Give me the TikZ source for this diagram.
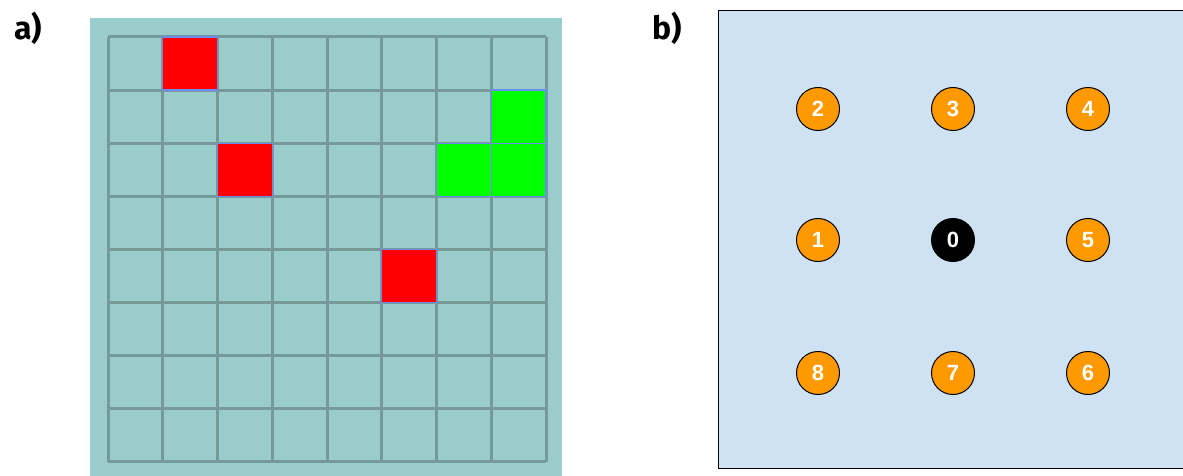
\documentclass[tikz,border=0pt]{standalone}
\usepackage{fontspec}
\setmainfont{Liberation Sans}
\newfontfamily\labfont{Fira Sans}
\definecolor{gridbg}{HTML}{99CCCA}
\definecolor{gridln}{HTML}{779999}
\definecolor{panelbg}{HTML}{CFE2F3}
\definecolor{orng}{HTML}{FF9900}
\definecolor{redc}{HTML}{FF0000}
\definecolor{grnc}{HTML}{00FF00}
\definecolor{cellbd}{HTML}{6D8CF0}
\tikzset{
  panellabel/.style={font=\labfont\bfseries\fontsize{32}{34}\selectfont, inner sep=0pt},
  num/.style={circle, draw=black, line width=1pt, minimum size=43pt, inner sep=0pt,
    fill=orng, text=white, font=\bfseries\fontsize{22}{23}\selectfont},
  numc/.style={num, fill=black},
  cellbox/.style={draw=cellbd, line width=1.2pt},
}
\begin{document}
\begin{tikzpicture}[x=1pt,y=-1pt]
\useasboundingbox (0,0) rectangle (1183,476);
\begin{scope}
\clip (0,0) rectangle (1183,476);
% panel a
\fill[gridbg] (90,18) rectangle (562,480);
\foreach \i in {0,...,8} {
  \draw[gridln, line width=3pt] ({108+\i*54.75},37) -- ({108+\i*54.75},462);
  \draw[gridln, line width=3pt] (108,{37+\i*53.1}) -- (546,{37+\i*53.1});
}
\newcommand{\cell}[3]{\fill[#3, cellbox] ({108+#1*54.75},{37+#2*53.1}) rectangle ({108+(#1+1)*54.75},{37+(#2+1)*53.1});}
\cell{1}{0}{redc}
\cell{2}{2}{redc}
\cell{5}{4}{redc}
\cell{7}{1}{grnc}
\cell{6}{2}{grnc}
\cell{7}{2}{grnc}
% panel b
\draw[fill=panelbg, draw=black, line width=1pt] (718.5,10.5) rectangle (1200,468.5);
\end{scope}
\node[panellabel] (la) at (28,28) {a)};
\node[panellabel] (lb) at (667,28) {b)};
\node[num] (n2) at (818,109) {2};
\node[num] (n3) at (953,109) {3};
\node[num] (n4) at (1088,109) {4};
\node[num] (n1) at (818,240) {1};
\node[numc] (n0) at (953,240) {0};
\node[num] (n5) at (1088,240) {5};
\node[num] (n8) at (818,373) {8};
\node[num] (n7) at (953,373) {7};
\node[num] (n6) at (1088,373) {6};
\end{tikzpicture}
\end{document}
